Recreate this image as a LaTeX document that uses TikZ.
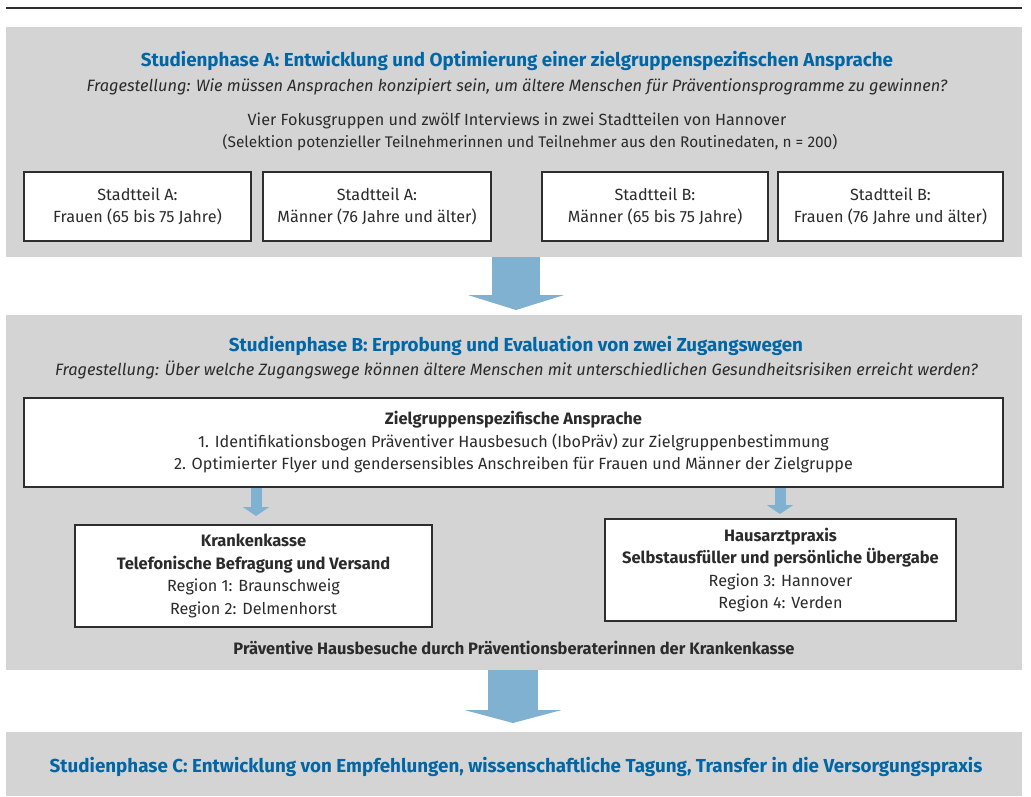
\documentclass[tikz,border=0pt]{standalone}
\usepackage{fontspec}
\setmainfont{Fira Sans}
\usetikzlibrary{arrows.meta}
\definecolor{panelgray}{HTML}{D4D4D4}
\definecolor{arrowblue}{HTML}{80B1D1}
\definecolor{titleblue}{HTML}{0066A6}
\definecolor{txt}{HTML}{2B2B2B}
\definecolor{boxline}{HTML}{2E2E2E}
\newcommand{\bl}[1]{{\fontsize{16.5}{22.5}\selectfont\bfseries #1}}
\begin{document}
\begin{tikzpicture}[x=1pt,y=-1pt,
  panel/.style={fill=panelgray, draw=none, inner sep=0pt, anchor=north west},
  phasetitle/.style={text=titleblue, font=\fontsize{18.8}{20}\selectfont\bfseries, inner sep=0pt},
  question/.style={text=txt, font=\fontsize{16.4}{18}\selectfont\itshape, inner sep=0pt},
  plain/.style={text=txt, font=\fontsize{16.2}{22.5}\selectfont, align=center, inner sep=0pt},
  whitebox/.style={fill=white, draw=boxline, line width=2pt, text=txt, align=center,
     font=\fontsize{16.2}{22.5}\selectfont, inner sep=0pt},
  bigarrow/.style={draw=arrowblue, line width=48pt,
     -{Triangle[width=96pt,length=15pt]}},
  smallarrow/.style={draw=arrowblue, line width=11pt,
     -{Triangle[width=26pt,length=9pt]}}
]
\useasboundingbox (0,0) rectangle (1031,796);
\draw[draw=boxline, line width=2.5pt] (6,8) -- (1022,8);

% panels
\node[panel, minimum width=1016pt, minimum height=230pt] (pA) at (6,27) {};
\node[panel, minimum width=1016pt, minimum height=355pt] (pB) at (6,315) {};
\node[panel, minimum width=1016pt, minimum height=64pt] (pC) at (6,732) {};

% phase A
\node[phasetitle] (tA) at (517,61) {Studienphase A: Entwicklung und Optimierung einer zielgruppenspezifischen Ansprache};
\node[question] (qA) at (517,87) {Fragestellung: Wie müssen Ansprachen konzipiert sein, um ältere Menschen für Präventionsprogramme zu gewinnen?};
\node[plain] (dA1) at (517,121) {Vier Fokusgruppen und zwölf Interviews in zwei Stadtteilen von Hannover};
\node[plain, font=\fontsize{15.4}{22.5}\selectfont] (dA2) at (530,143) {(Selektion potenzieller Teilnehmerinnen und Teilnehmer aus den Routinedaten, n = 200)};

\node[whitebox, minimum width=227pt, minimum height=69pt] (a1) at (137.5,206.5) {Stadtteil A:\\Frauen (65 bis 75 Jahre)};
\node[whitebox, minimum width=228pt, minimum height=69pt] (a2) at (377,206.5) {Stadtteil A:\\Männer (76 Jahre und älter)};
\node[whitebox, minimum width=226pt, minimum height=69pt] (a3) at (655,206.5) {Stadtteil B:\\Männer (65 bis 75 Jahre)};
\node[whitebox, minimum width=225pt, minimum height=69pt] (a4) at (890.5,206.5) {Stadtteil B:\\Frauen (76 Jahre und älter)};

% arrow A -> B
\draw[bigarrow] (pA.south -| 516,0) -- ([yshift=5pt]pB.north -| 516,0);

% phase B
\node[phasetitle] (tB) at (516,346) {Studienphase B: Erprobung und Evaluation von zwei Zugangswegen};
\node[question] (qB) at (516.5,370) {Fragestellung: Über welche Zugangswege können ältere Menschen mit unterschiedlichen Gesundheitsrisiken erreicht werden?};

\node[whitebox, minimum width=979pt, minimum height=89pt] (z) at (513.5,442.5)
  {\bl{Zielgruppenspezifische Ansprache}\\1. Identifikationsbogen Präventiver Hausbesuch (IboPräv) zur Zielgruppenbestimmung\\2. Optimierter Flyer und gendersensibles Anschreiben für Frauen und Männer der Zielgruppe};

\node[whitebox, minimum width=357pt, minimum height=102pt] (k) at (253.5,576)
  {\bl{Krankenkasse}\\\bl{Telefonische Befragung und Versand}\\Region 1: Braunschweig\\Region 2: Delmenhorst};
\node[whitebox, minimum width=351pt, minimum height=102pt] (h) at (780.5,570)
  {\bl{Hausarztpraxis}\\\bl{Selbstausfüller und persönliche Übergabe}\\Region 3: Hannover\\Region 4: Verden};

\draw[smallarrow] (z.south -| 256,0) -- ([yshift=8pt]k.north -| 256,0);
\draw[smallarrow] (z.south -| 780,0) -- ([yshift=4pt]h.north -| 780,0);

\node[plain, font=\fontsize{16.5}{18}\selectfont\bfseries] (pv) at (514,648) {Präventive Hausbesuche durch Präventionsberaterinnen der Krankenkasse};

% arrow B -> C
\draw[bigarrow, line width=50pt, -{Triangle[width=97pt,length=13pt]}] (pB.south -| 513,0) -- ([yshift=9pt]pC.north -| 513,0);

% phase C
\node[phasetitle] (tC) at (516,767) {Studienphase C: Entwicklung von Empfehlungen, wissenschaftliche Tagung, Transfer in die Versorgungspraxis};
\end{tikzpicture}
\end{document}
